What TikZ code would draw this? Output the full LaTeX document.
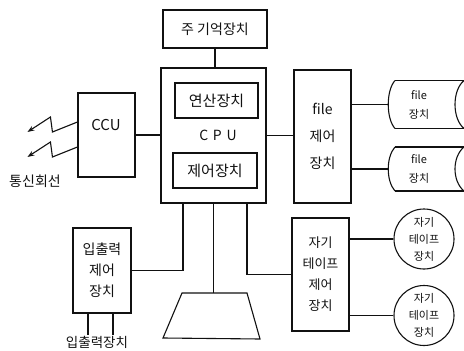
\documentclass[tikz,border=0pt]{standalone}
\usepackage{fontspec}
\setmainfont{Noto Sans CJK KR}
\usepackage{xcolor}
\usetikzlibrary{arrows.meta,positioning,shapes.geometric,calc}
\definecolor{ink}{HTML}{111111}

\begin{document}
\begin{tikzpicture}[x=1pt,y=-1pt,
    box/.style={draw=ink,line width=1.1pt,inner sep=0pt,align=center,text=ink},
    wire/.style={draw=ink,line width=1.1pt},
    lbl/.style={text=ink,inner sep=1pt,align=center}]
  \useasboundingbox (0,0) rectangle (464,351);
  % main memory and cpu
  \node[box,minimum width=104,minimum height=38,font=\fontsize{14}{16}\selectfont] (mem) at (215,29) {주 기억장치};
  \node[box,minimum width=105,minimum height=135] (cpu) at (213.5,135.5) {};
  \node[box,minimum width=83,minimum height=35,font=\fontsize{15}{17}\selectfont] (alu) at (216.5,100.5) {연산장치};
  \node[lbl,font=\fontsize{14}{16}\selectfont] (cpulbl) at (218,135) {C\,\,P\,\,U};
  \node[box,minimum width=84,minimum height=35,font=\fontsize{15}{17}\selectfont] (cu) at (215,170.5) {제어장치};
  % communication
  \node[box,minimum width=57,minimum height=84] (ccu) at (106.5,135) {};
  \node[lbl,font=\fontsize{15}{17}\selectfont] (ccult) at (106,125) {CCU};
  \node[lbl,font=\fontsize{14}{16}\selectfont] (comm) at (35,181) {통신회선};
  \foreach \dy in {13,-12}
    \draw[wire,-{Stealth[length=7pt,width=5pt]}] ([yshift=\dy]ccu.west) -- ++(-25,10) -- ++(-2,-15) -- ++(-23,15);
  % file side
  \node[box,minimum width=57,minimum height=133,font=\fontsize{14}{27}\selectfont] (fctl) at (322.5,136.5) {file\\제어\\장치};
  \foreach \n/\yc/\h in {A/104.5/24,B/169/22} {
    \draw[wire] (395,\yc-\h) -- (472,\yc-\h) (395,\yc+\h) -- (472,\yc+\h);
    \draw[wire] (395,\yc-\h) .. controls (386,\yc-\h+10) and (386,\yc+\h-10) .. (395,\yc+\h);
    \draw[wire] (464,\yc-\h) .. controls (452,\yc-\h+10) and (452,\yc+\h-10) .. (464,\yc+\h);
    \node[lbl,minimum width=62,minimum height=2*\h,font=\fontsize{11}{19}\selectfont] (fdev\n) at (419,\yc) {file\\장치};
    \draw[wire] (fctl.east |- fdev\n.west) -- (fdev\n.west);
  }
  % tape side
  \node[box,minimum width=57,minimum height=113,font=\fontsize{13}{21}\selectfont] (tctl) at (320.5,274.5) {자기\\테이프\\제어\\장치};
  \node[box,circle,minimum size=60,font=\fontsize{11}{17}\selectfont] (tapeA) at (424,239) {자기\\테이프\\장치};
  \node[box,circle,minimum size=60,font=\fontsize{11}{17}\selectfont] (tapeB) at (424,315.5) {자기\\테이프\\장치};
  \draw[wire] (tctl.east |- tapeA.west) -- (tapeA.west);
  \draw[wire] (tctl.east |- tapeB.west) -- (tapeB.west);
  % input output
  \node[box,minimum width=58,minimum height=85,font=\fontsize{14}{21}\selectfont] (ioctl) at (102,270.5) {입출력\\제어\\장치};
  \node[lbl,font=\fontsize{13.5}{16}\selectfont] (iodev) at (97,342) {입출력장치};
  \foreach \dx in {-14,11}
    \draw[wire] ([xshift=\dx]ioctl.south) -- ([xshift=\dx]ioctl.south |- iodev.north);
  % console
  \coordinate (con) at (214,293);
  \draw[wire] (182,293) -- (247,293) -- (260,339) -- (163,338) -- cycle;
  % connections
  \draw[wire] (mem.south) -- (mem.south |- cpu.north);
  \draw[wire] (ccu.east) -- (ccu.east -| cpu.west);
  \draw[wire] (cpu.east) -- (cpu.east -| fctl.west);
  \draw[wire] ([xshift=-30.5]cpu.south) |- (ioctl.east);
  \draw[wire] (cpu.south) -- (cpu.south |- con);
  \draw[wire] ([xshift=33.5]cpu.south) |- (tctl.west);
\end{tikzpicture}
\end{document}
